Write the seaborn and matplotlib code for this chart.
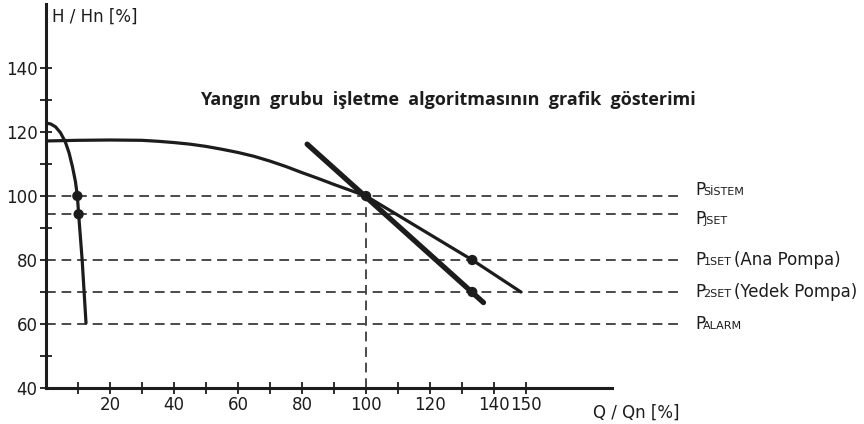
import matplotlib

matplotlib.use("Agg")

import matplotlib.pyplot as plt
import pandas as pd
import seaborn as sns

# pump curves (Q/Qn %, H/Hn %)
jockey_q = [0, 1.5, 3, 4.5, 6, 7.2, 8.3, 9.2, 9.8, 10.2, 11.3, 12.5]
jockey_h = [122.8, 122.5, 121.6, 119.8, 117, 113.5, 109, 104.5, 100, 94.3, 80, 60.3]

main_q = [0, 10, 20, 30, 35, 40, 45, 50, 55, 60, 65, 70, 75, 80, 85, 90, 95, 100,
          133.2, 148.4]
main_h = [117.2, 117.4, 117.5, 117.4, 117.1, 116.7, 116.2, 115.5, 114.6, 113.6,
          112.4, 110.9, 109.2, 107.3, 105.5, 103.6, 101.8, 100, 80, 70]

system_q = [81.6, 136.7]
system_h = [116.2, 66.7]

dot_q = [9.8, 10.2, 100, 133.2, 133.2]
dot_h = [100, 94.3, 100, 80, 70]

level_h = [100, 94.5, 80, 70, 60]
level_sub = ["SİSTEM", "JSET", "1SET", "2SET", "ALARM"]
level_note = ["", "", "(Ana Pompa)", "(Yedek Pompa)", ""]
label_base = [100.4, 91.1, 78.5, 68.4, 58.3]

x_major = [20, 40, 60, 80, 100, 120, 140, 150]
x_minor = [10, 30, 50, 70, 90, 110, 130]
y_major = [40, 60, 80, 100, 120, 140]
y_minor = [50, 70, 90, 110, 130]

title = "Yangın  grubu  işletme  algoritmasının  grafik  gösterimi"

sns.set_style("white")
plt.rcParams["font.family"] = ["DejaVu Sans"]
ink = "#1c1c1c"
dash_col = "#4a4a4a"

fig = plt.figure(figsize=(8.64, 4.24), dpi=100)
ax = fig.add_axes([46 / 864, 1 - 388 / 424, 1 - 46 / 864, 384 / 424])
ax.set_xlim(0, 255.6)
ax.set_ylim(40, 160)

# reference levels, run past the axis to the labels
for h in level_h:
    ax.plot([0, 198], [h, h], color=dash_col, lw=1.4, ls=(0, (5, 3)), zorder=1)
ax.plot([100, 100], [40, 100], color=dash_col, lw=1.4, ls=(0, (5, 3)), zorder=1)

curves = pd.concat([
    pd.DataFrame({"q": jockey_q, "h": jockey_h, "curve": "jockey"}),
    pd.DataFrame({"q": main_q, "h": main_h, "curve": "main"}),
])
sns.lineplot(data=curves, x="q", y="h", units="curve", estimator=None, sort=False,
             color=ink, lw=2.3, ax=ax)
sns.lineplot(x=system_q, y=system_h, sort=False, color=ink, lw=3.8, ax=ax)
sns.scatterplot(x=dot_q, y=dot_h, color=ink, s=55, edgecolor="none", zorder=5, ax=ax)

# right-hand labels: P + small caps subscript
for base, sub, note in zip(label_base, level_sub, level_note):
    ax.text(202.8, base, "P", fontsize=12, color=ink, va="baseline", ha="left")
    ax.text(205.4, base, sub, fontsize=8, color=ink, va="baseline", ha="left")
    if note:
        ax.text(215.0, base, note, fontsize=12, color=ink, va="baseline", ha="left")

ax.text(125.6, 130, title, fontsize=13, fontweight="bold", color=ink,
        family=["Open Sans", "DejaVu Sans"], ha="center", va="center")
ax.text(1.9, 155.9, "H / Hn [%]", fontsize=12, color=ink, ha="left", va="center")
ax.annotate("Q / Qn [%]", xy=(171, 40), xytext=(0, -17.5), textcoords="offset points",
            fontsize=12, color=ink, ha="left", va="center", annotation_clip=False)

ax.set_xticks(x_major)
ax.set_xticks(x_minor, minor=True)
ax.set_yticks(y_major)
ax.set_yticks(y_minor, minor=True)
ax.tick_params(which="both", direction="inout", length=8, width=1.3, color=ink,
               labelsize=12, labelcolor=ink, pad=2)
ax.tick_params(axis="both", which="both", left=True, bottom=True)
ax.set_xlabel("")
ax.set_ylabel("")

for side in ["top", "right"]:
    ax.spines[side].set_visible(False)
for side in ["left", "bottom"]:
    ax.spines[side].set_color(ink)
    ax.spines[side].set_linewidth(2.2)
ax.spines["bottom"].set_bounds(0, 177)
ax.spines["left"].set_bounds(40, 160)

fig.savefig("out.png", dpi=100)
plt.close(fig)
